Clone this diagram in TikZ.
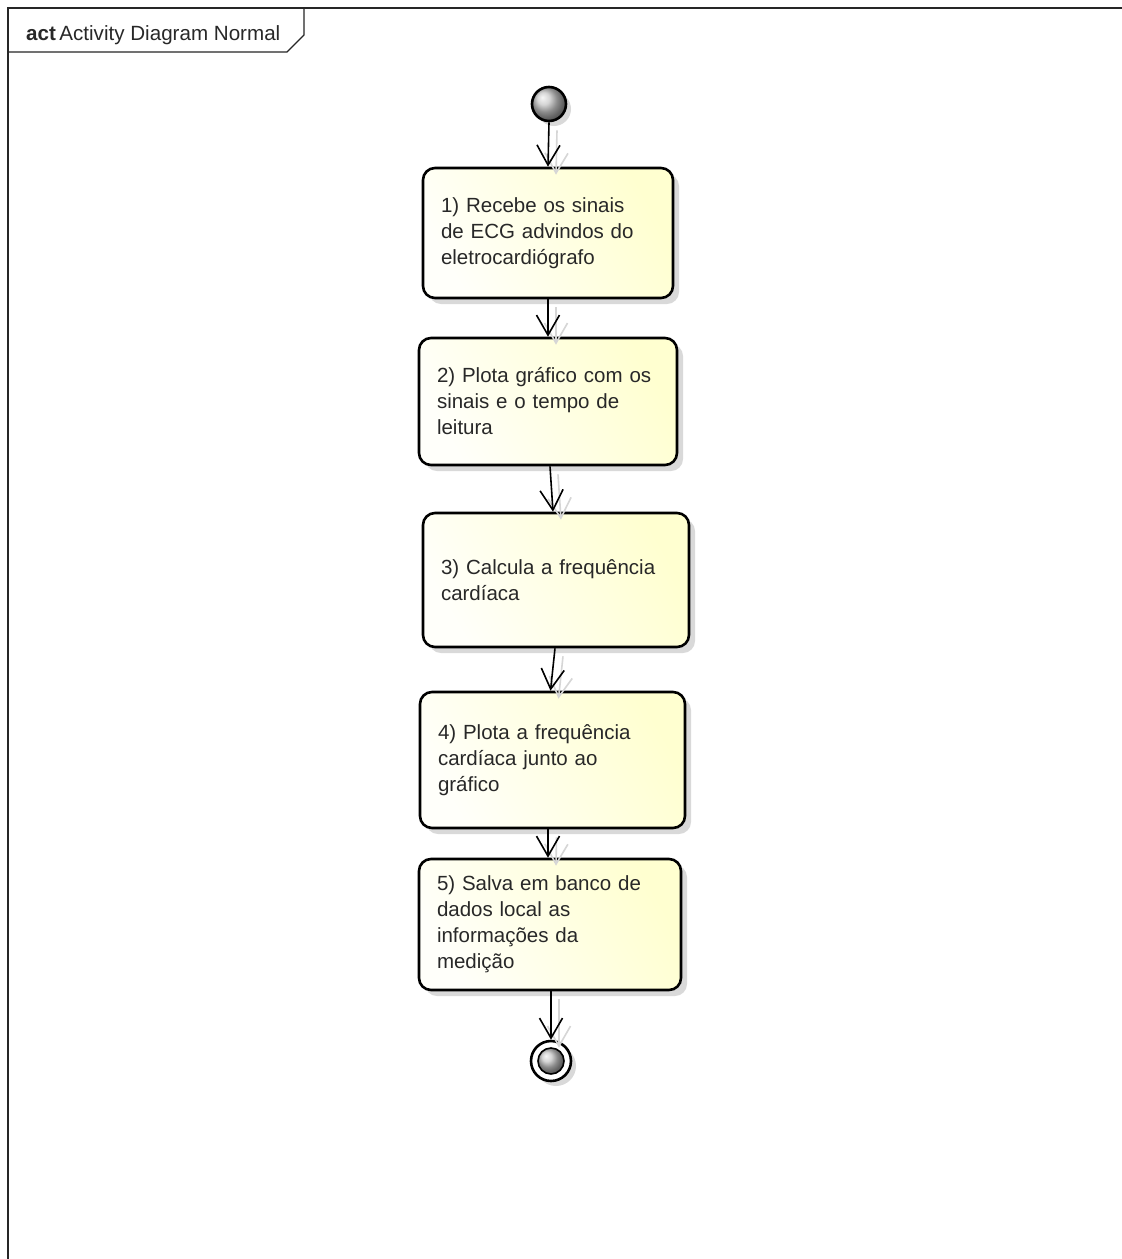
\documentclass[tikz,border=0pt]{standalone}
\usepackage{fontspec}
\setmainfont{Liberation Sans}
\usetikzlibrary{arrows.meta,shadows}

\definecolor{boxlight}{RGB}{255,255,250}
\definecolor{boxdark}{RGB}{255,255,208}
\definecolor{inktext}{RGB}{40,40,40}

\begin{document}
\begin{tikzpicture}[x=1pt,y=-1pt,
  actbox/.style={draw=black, line width=2.6pt, rounded corners=12pt,
    left color=boxlight, right color=boxdark, shading angle=120,
    drop shadow={shadow xshift=6pt, shadow yshift=-6pt, fill=black, opacity=0.15},
    align=left, inner sep=0pt, text=inktext, font=\fontsize{20.5}{26}\selectfont},
  flow/.style={draw=black, line width=1.6pt,
    -{Straight Barb[length=20pt,width=23pt]}},
  flowshadow/.style={draw=black!16, line width=1.6pt,
    -{Straight Barb[length=20pt,width=23pt]}},
  ballnode/.style={circle, draw=black, inner sep=0pt, ball color=black!22},
]
\useasboundingbox (0,0) rectangle (1122,1259);
\fill[white] (0,0) rectangle (1122,1259);

% frame and its name tab
\draw[line width=1.2pt, black!85] (1122,8) -- (8,8) -- (8,1259);
\draw[line width=1.2pt, black!85] (8,52) -- (287,52) -- (304,35) -- (304,8);
\node[anchor=base west, inner sep=0pt, text=inktext, font=\fontsize{20.6}{24}\selectfont] (title) at (26,40)
  {\textbf{act}\,Activity Diagram Normal};

% initial node
\node[ballnode, line width=2.6pt, minimum size=34pt,
  drop shadow={shadow xshift=5pt, shadow yshift=-5pt, fill=black, opacity=0.15}]
  (start) at (549,104) {};

% actions
\node[actbox, minimum width=250pt, minimum height=130pt, text width=214pt] (b1) at (548,233)
  {1) Recebe os sinais\\de ECG advindos do\\eletrocardiógrafo};
\node[actbox, minimum width=258pt, minimum height=127pt, text width=222pt] (b2) at (548,401.5)
  {2) Plota gráfico com os\\sinais e o tempo de\\leitura};
\node[actbox, minimum width=266pt, minimum height=134pt, text width=230pt] (b3) at (556,580)
  {3) Calcula a frequência\\cardíaca};
\node[actbox, minimum width=265pt, minimum height=136pt, text width=229pt] (b4) at (552.5,760)
  {4) Plota a frequência\\cardíaca junto ao\\gráfico};
\node[actbox, minimum width=262pt, minimum height=131pt, text width=226pt] (b5) at (550,924.5)
  {5) Salva em banco de\\dados local as\\informações da\\medição};

% final node
\node[circle, draw=black, line width=2.6pt, minimum size=40pt, fill=white, inner sep=0pt,
  drop shadow={shadow xshift=5pt, shadow yshift=-5pt, fill=black, opacity=0.15}]
  (end) at (551,1061) {};
\node[ballnode, line width=1.6pt, minimum size=26pt] (endin) at (end) {};

% soft shadows of the control flows
\draw[flowshadow] ([shift={(8,8)}]start.south) -- ([shift={(8,8)}]b1.north);
\draw[flowshadow] ([shift={(8,8)}]b1.south) -- ([shift={(8,8)}]b2.north);
\draw[flowshadow] ([shift={(10,8)}]b2.south) -- ([shift={(5,8)}]b3.north);
\draw[flowshadow] ([shift={(7,8)}]b3.south) -- ([shift={(6,8)}]b4.north);
\draw[flowshadow] ([shift={(4,8)}]b4.south) -- ([shift={(6,8)}]b5.north);
\draw[flowshadow] ([shift={(9,8)}]b5.south) -- ([shift={(8,8)}]end.north);

% control flows
\draw[flow] (start.south) -- (b1.north);
\draw[flow] (b1.south) -- (b2.north);
\draw[flow] ([xshift=2pt]b2.south) -- ([xshift=-3pt]b3.north);
\draw[flow] ([xshift=-1pt]b3.south) -- ([xshift=-2pt]b4.north);
\draw[flow] ([xshift=-4.5pt]b4.south) -- ([xshift=-2pt]b5.north);
\draw[flow] ([xshift=1pt]b5.south) -- (end.north);
\end{tikzpicture}
\end{document}
